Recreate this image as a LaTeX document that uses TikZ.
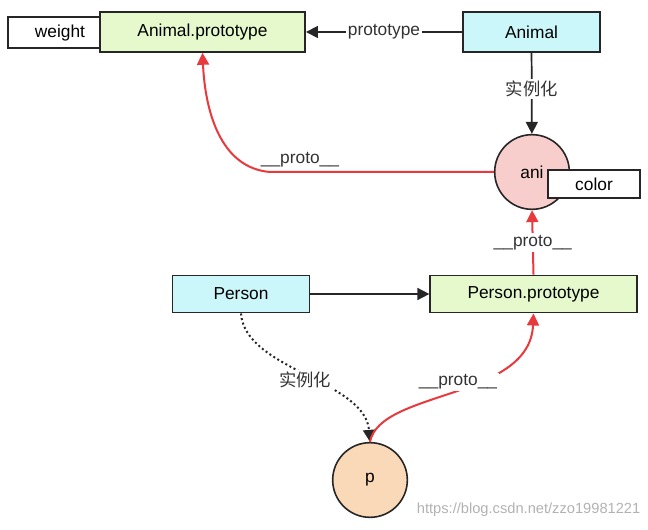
\documentclass[tikz,border=0pt]{standalone}
\usepackage{fontspec}
\setmainfont{Liberation Sans}
\newfontfamily\cjk{Noto Sans CJK SC}
\usetikzlibrary{arrows.meta}
\definecolor{cy}{HTML}{CCF7FA}
\definecolor{gr}{HTML}{E6F9CC}
\definecolor{pk}{HTML}{F8CECC}
\definecolor{pe}{HTML}{FAD9B8}
\definecolor{rd}{HTML}{E8393C}
\begin{document}
\begin{tikzpicture}[x=0.75pt,y=-0.75pt,
 box/.style={draw=black!85,line width=1.2pt,minimum height=30pt,inner sep=0pt,font=\fontsize{13}{15}\selectfont},
 circ/.style={circle,draw=black!85,line width=1.2pt,minimum size=56pt,font=\fontsize{13}{15}\selectfont},
 lab/.style={fill=white,inner sep=1.5pt,font=\fontsize{13}{15}\selectfont,text=black!80},
 blk/.style={-{Triangle[length=9pt,width=9pt]},line width=1.3pt,draw=black!85},
 red/.style={-{Triangle[length=9pt,width=9pt]},line width=1.5pt,draw=rd,rounded corners=0pt}]
\useasboundingbox (0,0) rectangle (648,530);
\node[box,fill=white,minimum width=84pt,minimum height=23pt] (w) at (64,32.5) {};
\node[box,fill=gr,minimum width=154pt] (ap) at (202.5,32) {Animal.prototype};
\node[font=\fontsize{13}{15}\selectfont,inner sep=0pt] (wt) at (60,33) {weight};
\node[box,fill=cy,minimum width=103pt] (a) at (531.5,32) {Animal};
\node[circ,fill=pk] (ani) at (532,172) {ani};
\node[box,fill=white,minimum width=69pt,minimum height=21pt] (c) at (594,184) {color};
\node[box,fill=cy,minimum width=103pt,minimum height=28pt] (pr) at (241,294) {Person};
\node[box,fill=gr,minimum width=155pt,minimum height=28pt] (pp) at (533.5,294) {Person.prototype};
\node[circ,fill=pe] (p) at (370,480) {p};
\draw[blk] (a) -- node[lab]{prototype} (ap);
\draw[blk] (a) -- node[lab,pos=0.45]{\cjk 实例化} (ani);
\draw[blk] (pr) -- (pp);
\draw[red] (ani.west) -- (270,172) .. controls (220,168) and (205,110) .. (ap.south);
\node[lab] at (300,160) {\_\_proto\_\_};
\draw[red] (pp.north) -- node[lab]{\_\_proto\_\_} (ani.south);
\draw[-{Triangle[length=9pt,width=9pt]},line width=1.5pt,dotted,black!85] (pr.south) .. controls (245,370) and (365,380) .. (p.north);
\node[lab] at (305,380) {\cjk 实例化};
\draw[red] (p.north) .. controls (380,390) and (530,400) .. (pp.south);
\node[lab] at (458,382) {\_\_proto\_\_};
\node[text=black!30,font=\fontsize{11}{13}\selectfont,anchor=east] (wm) at (645,510) {https://blog.csdn.net/zzo19981221};
\end{tikzpicture}
\end{document}
